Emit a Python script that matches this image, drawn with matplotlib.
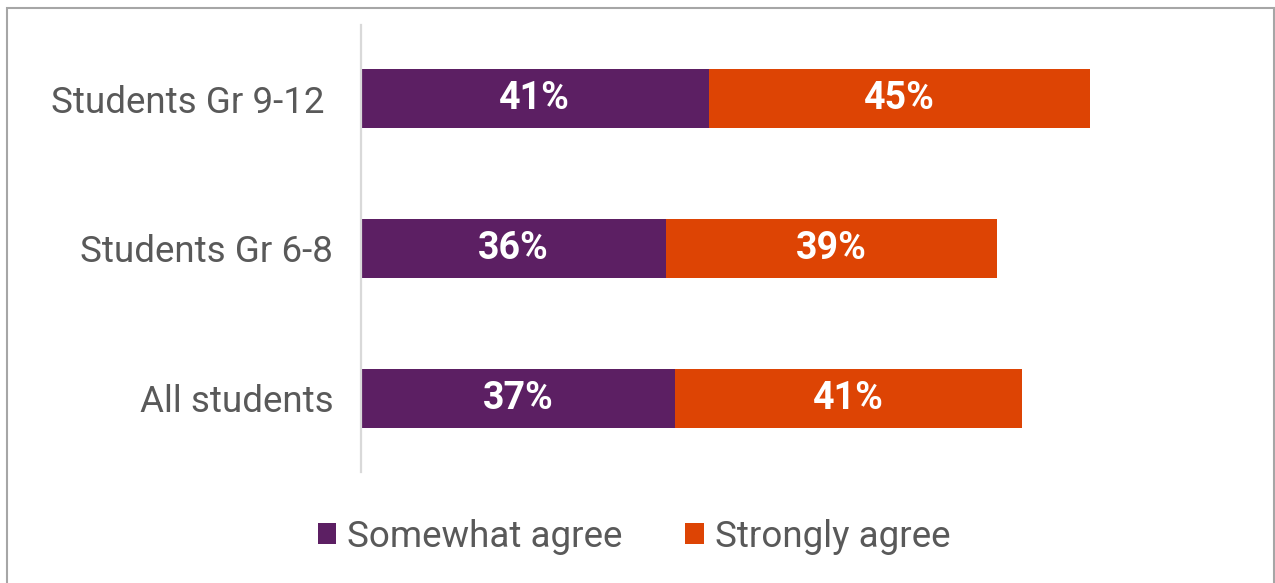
import matplotlib
matplotlib.use("Agg")
from matplotlib import pyplot as plt
from matplotlib.patches import Rectangle

# data
groups = ["All students", "Students Gr 6-8", "Students Gr 9-12 "]
somewhat = [37, 36, 41]
strongly = [41, 39, 45]
series_names = ["Somewhat agree", "Strongly agree"]

purple = "#5C1F63"
orange = "#DD4404"
gray_text = "#595959"

plt.rcParams['font.family'] = ['Roboto', 'DejaVu Sans']

fig = plt.figure(figsize=(12.75, 5.83), dpi=100)
ax = fig.add_axes([361 / 1275, 1 - 472 / 583, 887 / 1275, 447 / 583])

y = list(range(len(groups)))
b1 = ax.barh(y, somewhat, height=0.39, color=purple, label=series_names[0])
b2 = ax.barh(y, strongly, left=somewhat, height=0.39, color=orange, label=series_names[1])

for bars in (b1, b2):
    ax.bar_label(bars, labels=[f"{int(v)}%" for v in bars.datavalues],
                 label_type="center", color="white", fontsize=27, fontweight="bold")

ax.set_xlim(0, 104.6)
ax.set_ylim(-0.49, 2.49)
ax.set_yticks(y)
ax.set_yticklabels(groups, fontsize=26.5, color=gray_text)
ax.tick_params(axis="y", length=0, pad=20)
ax.set_xticks([])
for side in ("top", "right", "bottom"):
    ax.spines[side].set_visible(False)
ax.spines["left"].set_color("#D9D9D9")
ax.spines["left"].set_linewidth(1.6)

leg = fig.legend(handles=[b1, b2], loc="center", bbox_to_anchor=(634 / 1275, 1 - 537 / 583),
                 ncol=2, frameon=False, fontsize=26.5, labelcolor=gray_text,
                 handlelength=0.5, handleheight=0.5, handletextpad=0.3, columnspacing=1.7)

# outer border
fig.patches.append(Rectangle((7 / 1275, -0.01), 1267 / 1275, 1 - 8 / 583 + 0.01,
                             transform=fig.transFigure, fill=False,
                             edgecolor="#A6A6A6", linewidth=1.5))

fig.savefig("out.png", dpi=100)
